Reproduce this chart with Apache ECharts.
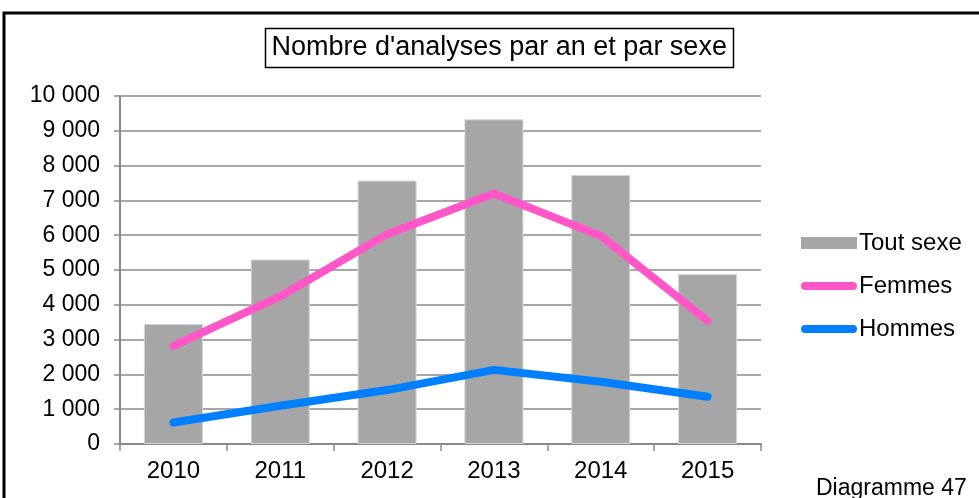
<!DOCTYPE html>
<html>
<head>
<meta charset="utf-8">
<script src="https://cdn.jsdelivr.net/npm/echarts@6/dist/echarts.min.js"></script>
<style>
  html, body { margin: 0; padding: 0; background: #fff; }
  #chart { width: 979px; height: 498px; }
</style>
</head>
<body>
<div id="chart"></div>
<script>
// Années et nombres d'analyses
const years = ['2010', '2011', '2012', '2013', '2014', '2015'];
const toutSexe = [3450, 5300, 7570, 9330, 7730, 4880];
const femmes = [2820, 4240, 6030, 7200, 5980, 3540];
const hommes = [620, 1100, 1550, 2130, 1790, 1360];
const yTicks = [0, 1000, 2000, 3000, 4000, 5000, 6000, 7000, 8000, 9000, 10000];

const FONT = '"Liberation Sans", Arial, sans-serif';
const GRID_GRAY = '#8a8a8a';

// Pastille arrondie pour les séries en ligne dans la légende
const PILL = 'path://M4,0 H52 A4,4 0 0 1 52,8 H4 A4,4 0 0 1 4,0 Z';

const fmt = v => String(v).replace(/\B(?=(\d{3})+(?!\d))/g, ' ');

const chart = echarts.init(document.getElementById('chart'), null, { renderer: 'canvas' });

chart.setOption({
  animation: false,
  backgroundColor: '#ffffff',
  textStyle: { fontFamily: FONT, color: '#000' },
  title: {
    text: "Nombre d'analyses par an et par sexe",
    left: 265,
    top: 28,
    padding: [6.5, 6.5],
    borderColor: '#000',
    borderWidth: 1.5,
    textStyle: { fontFamily: FONT, fontSize: 27, fontWeight: 'normal', color: '#000', lineHeight: 27 }
  },
  legend: {
    orient: 'vertical',
    left: 796,
    top: 226,
    padding: 5,
    itemWidth: 56,
    itemHeight: 12,
    itemGap: 19,
    textStyle: { fontFamily: FONT, fontSize: 24, color: '#000', padding: [0, 0, 0, -3] },
    data: [
      { name: 'Tout sexe', icon: 'rect', itemStyle: { borderWidth: 0, color: '#a6a6a6' } },
      { name: 'Femmes', icon: PILL },
      { name: 'Hommes', icon: PILL }
    ]
  },
  grid: { left: 120, right: 218, top: 96, bottom: 54 },
  xAxis: {
    type: 'category',
    data: years,
    boundaryGap: true,
    axisLine: { lineStyle: { color: GRID_GRAY, width: 2 } },
    axisTick: { show: true, length: 7, lineStyle: { color: GRID_GRAY, width: 1.5 } },
    axisLabel: { fontFamily: FONT, fontSize: 24, color: '#000', margin: 15 }
  },
  yAxis: {
    type: 'value',
    min: yTicks[0],
    max: yTicks[yTicks.length - 1],
    interval: yTicks[1] - yTicks[0],
    axisLine: { show: true, lineStyle: { color: GRID_GRAY, width: 2 } },
    axisTick: { show: true, length: 6, lineStyle: { color: GRID_GRAY, width: 1.5 } },
    splitLine: { show: true, lineStyle: { color: GRID_GRAY, width: 1.5 } },
    axisLabel: { fontFamily: FONT, fontSize: 23, color: '#000', margin: 20, formatter: fmt }
  },
  series: [
    {
      name: 'Tout sexe',
      type: 'bar',
      data: toutSexe,
      barWidth: 59,
      itemStyle: { color: '#a6a6a6', borderColor: '#d4d4d4', borderWidth: 1 },
      z: 2
    },
    {
      name: 'Femmes',
      type: 'line',
      data: femmes,
      symbol: 'none',
      color: '#ff57c8',
      itemStyle: { color: '#ff57c8' },
      lineStyle: { color: '#ff57c8', width: 8, cap: 'round', join: 'round' },
      z: 3
    },
    {
      name: 'Hommes',
      type: 'line',
      data: hommes,
      symbol: 'none',
      color: '#007fff',
      itemStyle: { color: '#007fff' },
      lineStyle: { color: '#007fff', width: 8, cap: 'round', join: 'round' },
      z: 4
    }
  ],
  graphic: [
    {
      type: 'rect',
      shape: { x: 4, y: 13, width: 1100, height: 700 },
      style: { fill: 'none', stroke: '#000', lineWidth: 3 },
      silent: true
    },
    {
      type: 'text',
      x: 816,
      y: 477,
      style: { text: 'Diagramme 47', font: '23px ' + FONT, fill: '#000' },
      silent: true
    }
  ]
});
</script>
</body>
</html>
